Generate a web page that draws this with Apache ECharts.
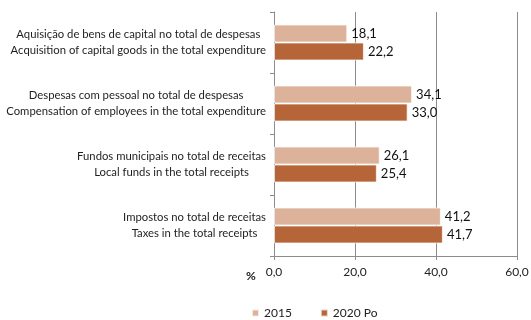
<!DOCTYPE html>
<html>
<head>
<meta charset="utf-8">
<script src="https://cdn.jsdelivr.net/npm/echarts@6/dist/echarts.min.js"></script>
<style>
  html, body { margin: 0; padding: 0; background: #fff; }
  #chart { width: 531px; height: 320px; }
</style>
</head>
<body>
<div id="chart"></div>
<script>
// Indicator names (Portuguese / English), listed top to bottom
const categories = [
  ['Aquisição de bens de capital no total de despesas', 'Acquisition of capital goods in the total expenditure'],
  ['Despesas com pessoal no total de despesas', 'Compensation of employees in the total expenditure'],
  ['Fundos municipais no total de receitas', 'Local funds in the total receipts'],
  ['Impostos no total de receitas', 'Taxes in the total receipts']
];
const seriesNames = ['2015', '2020 Po'];
const values2015 = [18.1, 34.1, 26.1, 41.2];
const values2020 = [22.2, 33.0, 25.4, 41.7];
const xTicks = [0, 20, 40, 60];

const FONT = 'Lato, "Open Sans", sans-serif';
const fmt = v => v.toFixed(1).replace('.', ',');

const chart = echarts.init(document.getElementById('chart'), null, { renderer: 'canvas' });

chart.setOption({
  animation: false,
  color: ['#DDB29A', '#B66538'],
  title: {
    text: '%',
    left: 241,
    top: 265,
    textStyle: { fontFamily: FONT, fontSize: 12, fontWeight: 'bold', color: '#222' }
  },
  grid: { left: 274, right: 14, top: 12, bottom: 64, containLabel: false, outerBoundsMode: 'none' },
  legend: {
    data: seriesNames,
    left: 246,
    top: 302,
    icon: 'rect',
    itemWidth: 7,
    itemHeight: 7,
    itemGap: 28,
    textStyle: { fontFamily: FONT, fontSize: 12, color: '#222' }
  },
  xAxis: {
    type: 'value',
    min: xTicks[0],
    max: xTicks[xTicks.length - 1],
    interval: 20,
    axisLine: { show: true, lineStyle: { color: '#8c8c8c', width: 1 } },
    axisTick: { show: true, length: 4, lineStyle: { color: '#8c8c8c' } },
    axisLabel: { fontFamily: FONT, fontSize: 12, color: '#222', margin: 10, formatter: v => fmt(v) },
    splitLine: { show: true, lineStyle: { color: '#8c8c8c', width: 1 } }
  },
  yAxis: {
    type: 'category',
    inverse: true,
    data: categories.map(c => c.join('\n')),
    axisLine: { show: true, lineStyle: { color: '#8c8c8c', width: 1 } },
    axisTick: { show: true, length: 4, inside: false, lineStyle: { color: '#8c8c8c' } },
    axisLabel: {
      margin: 8,
      align: 'right',
      formatter: v => v.split('\n').map(s => '{c|' + s + '}').join('\n'),
      rich: {
        c: { align: 'center', fontFamily: FONT, fontSize: 11.3, lineHeight: 16, color: '#1e1e1e' }
      }
    },
    splitLine: { show: false }
  },
  series: [
    {
      name: seriesNames[0],
      type: 'bar',
      data: values2015,
      barWidth: 18,
      barGap: '0%',
      itemStyle: { borderColor: 'rgba(255,255,255,0.7)', borderWidth: 1 },
      label: { show: true, position: 'right', distance: 4, fontFamily: FONT, fontSize: 13, color: '#111', formatter: p => fmt(p.value) }
    },
    {
      name: seriesNames[1],
      type: 'bar',
      data: values2020,
      barWidth: 18,
      barGap: '0%',
      itemStyle: { borderColor: 'rgba(255,255,255,0.7)', borderWidth: 1 },
      label: { show: true, position: 'right', distance: 4, fontFamily: FONT, fontSize: 13, color: '#111', formatter: p => fmt(p.value) }
    }
  ]
});
</script>
</body>
</html>
